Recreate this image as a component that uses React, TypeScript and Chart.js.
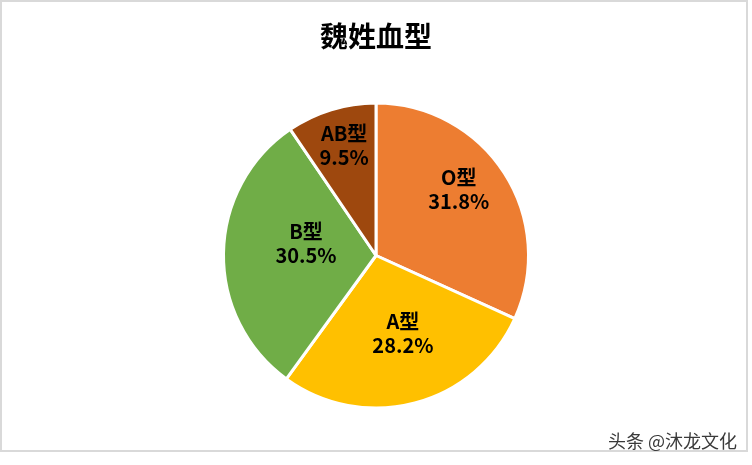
import React, { useEffect, useRef } from "react";
import { Chart, registerables } from "chart.js";

Chart.register(...registerables);

const TITLE = "魏姓血型";
const categories = ["O型", "A型", "B型", "AB型"];
const values = [31.8, 28.2, 30.5, 9.5];
const colors = ["#ED7D31", "#FFC000", "#70AD47", "#9E480E"];
// label placement style (fraction of radius, angle shift in degrees)
const labelRadiusFrac = [0.695, 0.538, 0.466, 0.754];
const labelAngleShift = [-5.9, -4.4, 9.1, 1.0];

const FONT = '"Noto Sans CJK SC", "Noto Sans", sans-serif';

const labelPlugin = {
  id: "sliceLabels",
  afterDatasetsDraw(chart: any) {
    const ctx = chart.ctx;
    const meta = chart.getDatasetMeta(0);
    ctx.save();
    ctx.fillStyle = "#000000";
    ctx.font = `bold 20px ${FONT}`;
    ctx.textAlign = "center";
    ctx.textBaseline = "middle";
    meta.data.forEach((arc: any, i: number) => {
      const { x, y, startAngle, endAngle, outerRadius } = arc.getProps(
        ["x", "y", "startAngle", "endAngle", "outerRadius"],
        true
      );
      const mid = (startAngle + endAngle) / 2 + (labelAngleShift[i] * Math.PI) / 180;
      const r = outerRadius * labelRadiusFrac[i];
      const cx = x + Math.cos(mid) * r;
      const cy = y + Math.sin(mid) * r;
      ctx.fillText(categories[i], cx, cy - 12);
      ctx.fillText(values[i].toFixed(1) + "%", cx, cy + 12);
    });
    ctx.restore();
  },
};

const titlePlugin = {
  id: "customTitle",
  afterDraw(chart: any) {
    const ctx = chart.ctx;
    ctx.save();
    ctx.fillStyle = "#000000";
    ctx.font = `bold 28px ${FONT}`;
    ctx.textAlign = "center";
    ctx.textBaseline = "middle";
    ctx.fillText(TITLE, chart.width / 2, 36);
    ctx.restore();
  },
};

export default function App() {
  const ref = useRef<HTMLCanvasElement>(null);
  useEffect(() => {
    if (!ref.current) return;
    const chart = new Chart(ref.current, {
      type: "pie",
      data: {
        labels: categories,
        datasets: [
          {
            data: values,
            backgroundColor: colors,
            borderColor: "#ffffff",
            borderWidth: 3,
          },
        ],
      },
      options: {
        responsive: false,
        animation: false,
        layout: { padding: { top: 101.5, bottom: 55.5, left: 200, right: 200 } },
        plugins: {
          legend: { display: false },
          tooltip: { enabled: false },
          title: { display: false },
        },
      },
      plugins: [labelPlugin, titlePlugin],
    });
    return () => chart.destroy();
  }, []);

  return (
    <div style={{ position: "absolute", left: 0, top: 0, width: 752, height: 465, background: "#ffffff" }}>
      <div
        style={{
          position: "absolute",
          left: 0,
          top: 0,
          width: 748,
          height: 452,
          border: "2px solid #d9d9d9",
          boxSizing: "border-box",
        }}
      />
      <canvas ref={ref} width={752} height={465} style={{ position: "absolute", left: 0, top: 0 }} />
      <span
        style={{
          position: "absolute",
          right: 752 - 737,
          top: 428,
          fontFamily: FONT,
          fontSize: 18,
          lineHeight: "24px",
          color: "#3a3a3a",
          whiteSpace: "nowrap",
        }}
      >
        头条 @沐龙文化
      </span>
    </div>
  );
}
